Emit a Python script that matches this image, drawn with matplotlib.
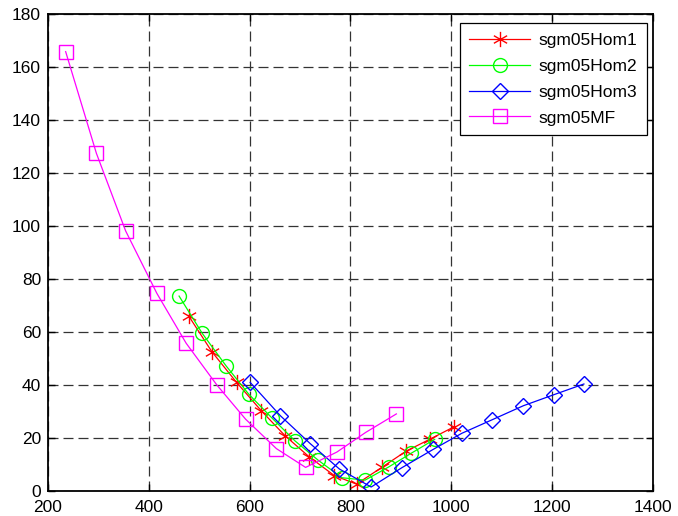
import matplotlib.pyplot as plt
from matplotlib.path import Path as MPath
import numpy as np

plt.rcParams["font.family"] = ["Liberation Sans", "DejaVu Sans"]

# values
hom1_x = [479, 525, 574, 623, 670, 718, 768, 812, 862, 910, 958, 1006]
hom1_y = [66.0, 52.5, 40.9, 30.2, 20.8, 12.8, 5.7, 2.5, 8.8, 14.9, 19.5, 24.2]

hom2_x = [460, 506, 553, 598, 645, 690, 736, 783, 829, 876, 920, 967]
hom2_y = [73.5, 59.4, 47.2, 36.5, 27.3, 18.8, 11.5, 4.9, 4.0, 9.0, 14.1, 19.4]

hom3_x = [601, 661, 720, 778, 841, 902, 964, 1021, 1081, 1143, 1204, 1263]
hom3_y = [40.9, 28.3, 17.8, 8.2, 1.4, 8.7, 15.6, 21.7, 26.8, 32.1, 36.3, 40.3]

mf_x = [235, 296, 354, 416, 474, 535, 592, 653, 711, 773, 830, 891]
mf_y = [165.8, 127.4, 98.1, 74.5, 55.7, 39.9, 27.0, 15.9, 8.8, 14.6, 22.0, 29.0]

labels = ["sgm05Hom1", "sgm05Hom2", "sgm05Hom3", "sgm05MF"]

# MATLAB-style asterisk marker: three crossing strokes
ang = np.deg2rad([90, 30, -30])
verts, codes = [], []
for a in ang:
    verts += [(np.cos(a), np.sin(a)), (-np.cos(a), -np.sin(a))]
    codes += [MPath.MOVETO, MPath.LINETO]
asterisk = MPath(verts, codes)

fig = plt.figure(figsize=(6.78, 5.16), dpi=100)
ax = fig.add_axes([0.0708, 0.049, 0.8923, 0.9238])

lw = 0.9
ax.plot(hom1_x, hom1_y, color="#ff0000", lw=lw, marker=asterisk, ms=11,
        mew=1.0, label=labels[0])
ax.plot(hom2_x, hom2_y, color="#00ff00", lw=lw, marker="o", ms=10,
        mfc="none", mew=1.0, label=labels[1])
ax.plot(hom3_x, hom3_y, color="#0000ff", lw=lw, marker="D", ms=8,
        mfc="none", mew=1.0, label=labels[2])
ax.plot(mf_x, mf_y, color="#ff00ff", lw=lw, marker="s", ms=9.5,
        mfc="none", mew=1.0, label=labels[3])

ax.set_xlim(200, 1400)
ax.set_ylim(0, 180)
ax.set_xticks(np.arange(200, 1401, 200))
ax.set_yticks(np.arange(0, 181, 20))
ax.tick_params(direction="in", top=True, right=True, length=5, width=1,
               labelsize=12.5)
ax.tick_params(axis="x", pad=7)
ax.tick_params(axis="y", pad=5)
ax.grid(True, color="#333333", linestyle=(0, (8, 4)), linewidth=0.9)
for s in ax.spines.values():
    s.set_linewidth(1.3)

leg = ax.legend(loc="upper right", bbox_to_anchor=(0.990, 0.981),
                borderaxespad=0, fancybox=False, framealpha=1,
                edgecolor="black", fontsize=12.5, handlelength=3.5,
                labelspacing=0.62, borderpad=0.55, handletextpad=0.5)
leg.get_frame().set_linewidth(0.9)

fig.savefig("out.png", dpi=100)
